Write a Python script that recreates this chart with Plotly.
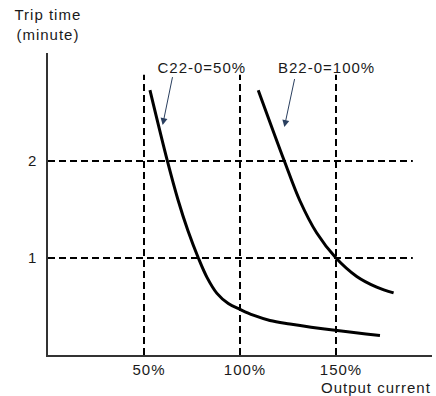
import plotly.graph_objects as go

# curve C22-0=50% (output current %, trip time in minutes)
c22_x = [53.1, 62.3, 67.7, 72.9, 78.3, 82.8, 88.0, 93.9, 100, 106.9, 115.6, 126, 149.5, 172.9]
c22_y = [2.73, 1.99, 1.60, 1.28, 1.0, 0.80, 0.635, 0.53, 0.47, 0.41, 0.356, 0.32, 0.254, 0.2]

# curve B22-0=100%
b22_x = [109.5, 123.1, 131.2, 139.9, 150, 160.8, 171.2, 180]
b22_y = [2.73, 2.0, 1.59, 1.26, 1.0, 0.81, 0.70, 0.64]

grid_x = [50, 100, 150]
grid_y = [1, 2]
x_labels = ['50%', '100%', '150%']
y_labels = ['1', '2']

font = dict(family='Liberation Sans, Arial', size=15, color='#1a1a1a')
dash = dict(color='black', width=2, dash='7px,4px')

fig = go.Figure()
fig.add_trace(go.Scatter(x=c22_x, y=c22_y, mode='lines',
                         line=dict(color='black', width=3, shape='spline', smoothing=1)))
fig.add_trace(go.Scatter(x=b22_x, y=b22_y, mode='lines',
                         line=dict(color='black', width=3, shape='spline', smoothing=1)))

# dashed guide lines
for gx in grid_x:
    fig.add_shape(type='line', x0=gx, x1=gx, y0=0, y1=2.89, line=dash, layer='below')
for gy in grid_y:
    fig.add_shape(type='line', x0=0, x1=190, y0=gy, y1=gy, line=dash, layer='below')

# labels with arrows
fig.add_annotation(x=59.7, y=2.37, ax=65, ay=2.88, axref='x', ayref='y',
                   text='', showarrow=True, arrowhead=2, arrowsize=1.4, arrowwidth=1)
fig.add_annotation(x=80.2, y=2.96, text='C22-0=50%', showarrow=False, font=font)
fig.add_annotation(x=123.1, y=2.35, ax=128.6, ay=2.86, axref='x', ayref='y',
                   text='', showarrow=True, arrowhead=2, arrowsize=1.4, arrowwidth=1)
fig.add_annotation(x=144.8, y=2.96, text='B22-0=100%', showarrow=False, font=font)

fig.add_annotation(x=0, y=1, xref='paper', yref='paper', yshift=8, text='Trip time<br>(minute)',
                   showarrow=False, font=font, xanchor='center', yanchor='bottom')
fig.add_annotation(x=1.008, y=0, xref='paper', yref='paper', xshift=-8, yshift=-22,
                   text='Output current', showarrow=False, font=font,
                   xanchor='right', yanchor='top')

fig.update_layout(
    width=436, height=396,
    margin=dict(l=48, r=4, t=53, b=41),
    plot_bgcolor='white', paper_bgcolor='white',
    showlegend=False,
    font=font,
    xaxis=dict(range=[0, 200], showgrid=False, zeroline=False, showline=True,
               linecolor='#333', linewidth=1.5, tickvals=grid_x, ticktext=x_labels,
               ticks='', ticklabelshift=5, ticklabelstandoff=0),
    yaxis=dict(range=[0, 3.113], showgrid=False, zeroline=False, showline=True,
               linecolor='#333', linewidth=1.5, tickvals=grid_y, ticktext=y_labels,
               ticks='', ticklabelstandoff=6),
)

fig.write_html('out.html', config={'displayModeBar': False}, post_script=(
    "document.body.style.margin='0';"
    "document.querySelectorAll('text').forEach(function(t){t.style.letterSpacing='1px';});"
))
